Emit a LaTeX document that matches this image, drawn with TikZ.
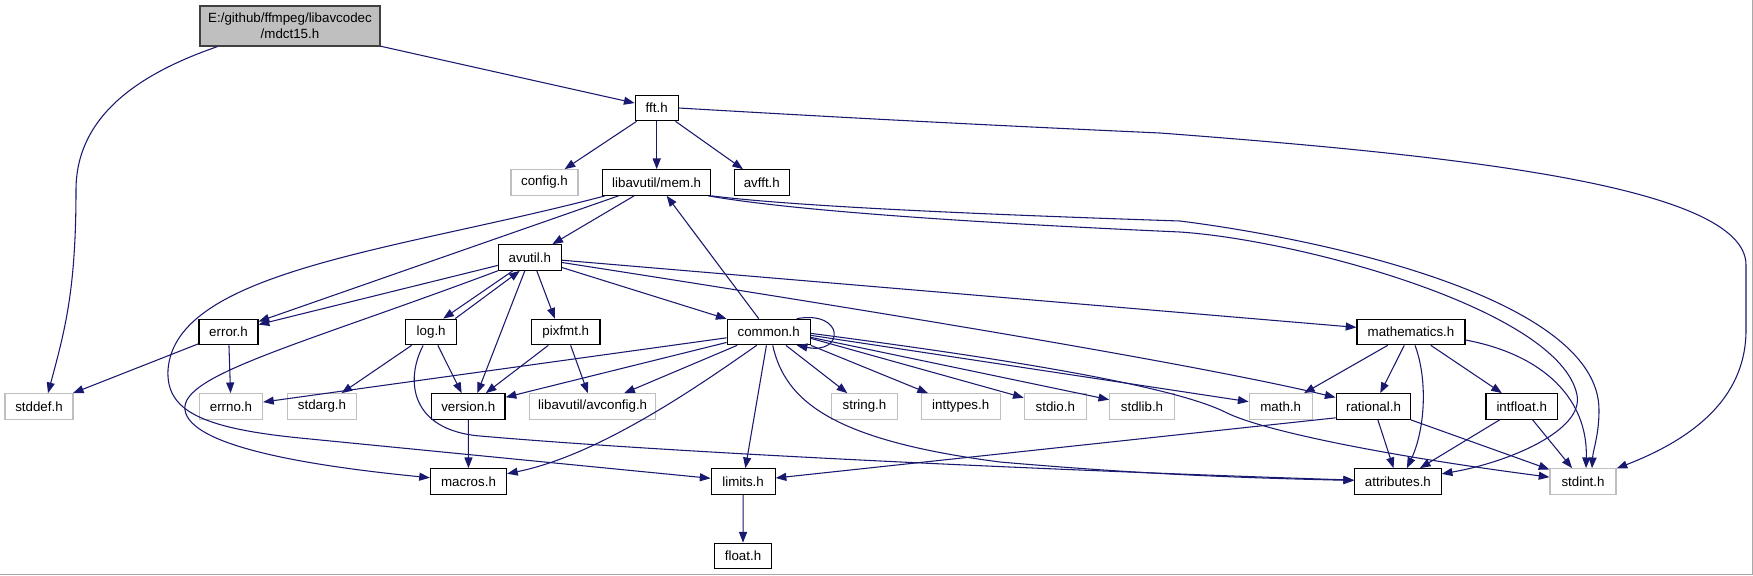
\documentclass[tikz,border=0pt]{standalone}
\usepackage{fontspec}
\setmainfont{Liberation Sans}
\usetikzlibrary{arrows.meta}
\newdimen\pxu \pxu=0.75pt
\definecolor{edgeblue}{HTML}{191970}
\definecolor{rootfill}{HTML}{BFBFBF}
\definecolor{rootdraw}{HTML}{404040}
\definecolor{greydraw}{HTML}{BFBFBF}
\definecolor{framegrey}{HTML}{A8A8A8}
\begin{document}
\begin{tikzpicture}[x=0.75pt,y=-0.75pt,
  box/.style={rectangle, inner sep=0pt, minimum height=25.5*0.75pt,
    font=\fontsize{10}{12}\selectfont, line width=0.9pt, fill=white},
  hdr/.style={box, draw=black},
  ext/.style={box, draw=greydraw},
  rootbox/.style={box, draw=rootdraw, fill=rootfill, minimum height=40*0.75pt, align=center},
  wd/.style={minimum width=#1*0.75pt},
  dep/.style={draw=edgeblue, line width=0.8pt, -{Triangle[length=8pt,width=6pt]}}]
\useasboundingbox (0,0) rectangle (1753,575);
\fill[white] (0,0) rectangle (1753,575);
\draw[framegrey, line width=0.75pt] (1752.5,0) -- (1752.5,574.5) -- (0,574.5);

% nodes
\node[rootbox, wd=180] (mdct15) at (290,26) {E:/github/ffmpeg/libavcodec\\/mdct15.h};
\node[hdr, wd=43] (fft) at (656.7,108) {fft.h};
\node[ext, wd=67] (config) at (544.5,182.5) {config.h};
\node[hdr, wd=108] (mem) at (656.7,182.5) {libavutil/mem.h};
\node[hdr, wd=55] (avfft) at (761.8,182.5) {avfft.h};
\node[hdr, wd=63] (avutil) at (529.8,257.5) {avutil.h};
\node[hdr, wd=59] (error) at (228.5,332) {error.h};
\node[hdr, wd=51] (log) at (431.2,332) {log.h};
\node[hdr, wd=68.5] (pixfmt) at (565.8,332) {pixfmt.h};
\node[hdr, wd=83] (common) at (768.7,332) {common.h};
\node[hdr, wd=108] (mathematics) at (1411,332) {mathematics.h};
\node[ext, wd=68] (stddef) at (39,406.5) {stddef.h};
\node[ext, wd=63] (errno) at (231,406.5) {errno.h};
\node[ext, wd=69] (stdarg) at (322,406.5) {stdarg.h};
\node[hdr, wd=73.5] (version) at (468.3,406.5) {version.h};
\node[ext, wd=126] (avconfig) at (592.7,406.5) {libavutil/avconfig.h};
\node[ext, wd=65.5] (string) at (864.5,406.5) {string.h};
\node[ext, wd=79] (inttypes) at (960.7,406.5) {inttypes.h};
\node[ext, wd=62] (stdio) at (1055.3,406.5) {stdio.h};
\node[ext, wd=64.5] (stdlib) at (1142,406.5) {stdlib.h};
\node[ext, wd=63] (math) at (1280.7,406.5) {math.h};
\node[hdr, wd=74.7] (rational) at (1373.5,406.5) {rational.h};
\node[hdr, wd=71.3] (intfloat) at (1521.7,406.5) {intfloat.h};
\node[hdr, wd=76] (macros) at (468.5,481.5) {macros.h};
\node[hdr, wd=64] (limits) at (743.1,481.5) {limits.h};
\node[hdr, wd=86.5] (attributes) at (1397.9,481.5) {attributes.h};
\node[ext, wd=66] (stdint) at (1583,481.5) {stdint.h};
\node[hdr, wd=57.4] (float) at (743,556) {float.h};

% mdct15.h
\draw[dep] ([xshift=18\pxu]mdct15.south west) .. controls (150,70) and (76,110) .. (76,190)
  .. controls (76,290) and (65,330) .. ([xshift=9\pxu]stddef.north);
\draw[dep] (mdct15) -- (fft);

% fft.h
\draw[dep] (fft) -- (config);
\draw[dep] (fft) -- (mem);
\draw[dep] (fft) -- (avfft);
\draw[dep] (fft.east) .. controls (900,121) and (1050,128) .. (1160,133)
  .. controls (1450,155) and (1746,185) .. (1746,265) -- (1746,330)
  .. controls (1746,400) and (1690,440) .. (stdint);

% mem.h
\draw[dep] (mem) -- (avutil);
\draw[dep] (mem) -- (error);
\draw[dep] ([xshift=3\pxu]mem.south west) .. controls (400,250) and (175,270) .. (168,370)
  .. controls (166,410) and (200,428) .. (300,438) -- (limits);
\draw[dep] ([xshift=-3\pxu]mem.south east) .. controls (800,212) and (1000,224) .. (1180,232)
  .. controls (1300,240) and (1560,310) .. (1577,395)
  .. controls (1584,430) and (1510,462) .. (attributes);
\draw[dep] (mem.south east) .. controls (800,207) and (1000,215) .. (1180,221)
  .. controls (1330,240) and (1599,300) .. (1599,410)
  .. controls (1599,435) and (1593,450) .. ([xshift=9\pxu]stdint.north);

% avutil.h
\draw[dep] (avutil) -- (error);
\draw[dep] ([xshift=-17\pxu]avutil.south) -- ([xshift=12\pxu]log.north);
\draw[dep] ([xshift=-5\pxu]avutil.south) -- ([xshift=9\pxu]version.north);
\draw[dep] ([xshift=7\pxu]avutil.south) -- ([xshift=-11\pxu]pixfmt.north);
\draw[dep] (avutil) -- (common);
\draw[dep] (avutil) -- (mathematics);
\draw[dep] (avutil) .. controls (900,315) and (1200,365) .. (rational);
\draw[dep] (avutil.south west) .. controls (300,345) and (180,375) .. (185,410)
  .. controls (190,445) and (300,465) .. (macros);

% log.h
\draw[dep] ([xshift=24\pxu]log.north) -- ([xshift=-10\pxu]avutil.south);
\draw[dep] (log) -- (stdarg);
\draw[dep] (log) -- (version);
\draw[dep] ([xshift=-8\pxu]log.south) .. controls (405,380) and (410,430) .. (480,436)
  .. controls (700,455) and (1100,472) .. (attributes);

% error.h
\draw[dep] (error) -- (stddef);
\draw[dep] (error) -- (errno);

% pixfmt.h
\draw[dep] (pixfmt) -- (version);
\draw[dep] (pixfmt) -- (avconfig);

% version.h, limits.h
\draw[dep] (version) -- (macros);
\draw[dep] (limits) -- (float);

% common.h
\draw[dep] (common) -- (mem);
\draw[dep] ([xshift=28\pxu]common.north) .. controls (845,310) and (845,355) .. ([xshift=28\pxu]common.south);
\draw[dep] (common) -- (version);
\draw[dep] (common) -- (errno);
\draw[dep] (common) -- (avconfig);
\draw[dep] ([xshift=-12\pxu]common.south) .. controls (700,385) and (600,455) .. (macros);
\draw[dep] (common) -- (limits);
\draw[dep] ([xshift=4\pxu]common.south) .. controls (785,400) and (830,440) .. (1000,462)
  .. controls (1150,475) and (1250,478) .. (attributes);
\draw[dep] (common) -- (string);
\draw[dep] (common.south east) -- (inttypes);
\draw[dep] ([yshift=7\pxu]common.south east) -- (stdio);
\draw[dep] ([yshift=8\pxu]common.south east) -- (stdlib);
\draw[dep] ([yshift=10\pxu]common.south east) -- (math);
\draw[dep] ([yshift=12\pxu]common.south east) .. controls (1000,358) and (1170,385) .. (1225,412)
  .. controls (1260,430) and (1380,455) .. (stdint);

% mathematics.h
\draw[dep] (mathematics) -- (math);
\draw[dep] (mathematics) -- (rational);
\draw[dep] ([xshift=4\pxu]mathematics.south) .. controls (1428,380) and (1425,430) .. ([xshift=9\pxu]attributes.north);
\draw[dep] (mathematics) -- (intfloat);
\draw[dep] ([yshift=-8\pxu]mathematics.east) .. controls (1545,355) and (1588,400) .. ([xshift=3\pxu]stdint.north);

% rational.h
\draw[dep] (rational) -- (attributes);
\draw[dep] (rational) -- (stdint);
\draw[dep] ([yshift=2\pxu]rational.south west) -- (limits);

% intfloat.h
\draw[dep] (intfloat) -- (attributes);
\draw[dep] (intfloat) -- (stdint);
\end{tikzpicture}
\end{document}
